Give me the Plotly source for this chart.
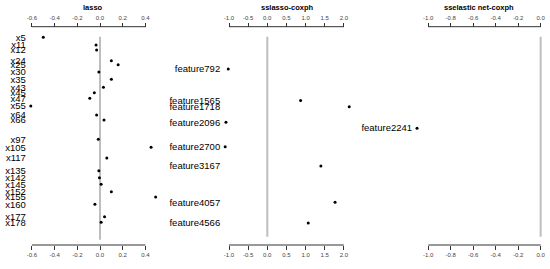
import plotly.graph_objects as go

# ---------------- data ----------------
# lasso panel: nonzero coefficients (row position)
lasso_labels = ["x5", "x11", "x12", "x24", "x25", "x30", "x35", "x43", "x45", "x47",
                "x55", "x64", "x66", "x97", "x105", "x117", "x135", "x142", "x145",
                "x152", "x155", "x160", "x177", "x178"]
lasso_pos = [0.6, 8.1, 13.0, 23.5, 27.5, 34.6, 41.8, 49.6, 54.9, 60.4,
             67.9, 76.8, 81.7, 100.6, 108.4, 118.9, 131.4, 138.2, 144.7,
             151.9, 157.1, 164.3, 176.5, 182.0]
lasso_coef = [-0.50, -0.035, -0.03, 0.10, 0.16, -0.01, 0.10, 0.03, -0.05, -0.09,
              -0.61, -0.03, 0.035, -0.015, 0.45, 0.06, -0.01, -0.005, 0.01,
              0.10, 0.49, -0.045, 0.04, 0.01]
lasso_nrows = 197

# sslasso-coxph panel
ss_labels = ["feature792", "feature1565", "feature1718", "feature2096",
             "feature2700", "feature3167", "feature4057", "feature4566"]
ss_pos = [792, 1565, 1718, 2096, 2700, 3167, 4057, 4566]
ss_coef = [-1.02, 0.87, 2.14, -1.08, -1.10, 1.40, 1.77, 1.07]

# sselastic net-coxph panel
en_labels = ["feature2241"]
en_pos = [2241]
en_coef = [-1.10]
n_features = 4900

lasso_ticks = [-0.6, -0.4, -0.2, 0.0, 0.2, 0.4]
ss_ticks = [-1.0, -0.5, 0.0, 0.5, 1.0, 1.5, 2.0]
en_ticks = [-1.0, -0.8, -0.6, -0.4, -0.2, 0.0]
titles = ["lasso", "sslasso-coxph", "sselastic net-coxph"]

# ---------------- layout geometry ----------------
W, H = 550, 269
dom_px = [(25.8, 160.6), (220.2, 354.2), (412.1, 545.6)]
xranges = [(-0.654, 0.534), (-1.23, 2.27), (-1.144, 0.044)]
top_px, bot_px = 26.7, 245.0
ydom = [1 - bot_px / H, 1 - top_px / H]
lasso_yrange = [204.2, -9.8]
feat_yrange = [5105, -245]

font = "Liberation Sans, Arial, sans-serif"
grey = "#BEBEBE"
axcol = "#333333"

fig = go.Figure()

# zero (unselected) coefficients as grey marks
lasso_zero_rows = [r for r in range(0, lasso_nrows + 1)
                   if all(abs(r - p) > 0.8 for p in lasso_pos)]
fig.add_trace(go.Scatter(x=[0.0] * len(lasso_zero_rows), y=lasso_zero_rows,
                         mode="markers", xaxis="x", yaxis="y",
                         marker=dict(symbol="line-ns", size=3, color=grey,
                                     line=dict(color=grey, width=2)),
                         hoverinfo="skip", showlegend=False))
for xa, ya, pos in [("x2", "y2", ss_pos), ("x3", "y3", en_pos)]:
    zs = [f for f in range(1, n_features + 1) if f not in set(pos)]
    fig.add_trace(go.Scatter(x=[0.0] * len(zs), y=zs, mode="lines",
                             xaxis=xa, yaxis=ya,
                             line=dict(color=grey, width=2),
                             hoverinfo="skip", showlegend=False))

# nonzero coefficients
panels = [("x", "y", lasso_coef, lasso_pos),
          ("x2", "y2", ss_coef, ss_pos),
          ("x3", "y3", en_coef, en_pos)]
for xa, ya, xs, ys in panels:
    fig.add_trace(go.Scatter(x=xs, y=ys, mode="markers", xaxis=xa, yaxis=ya,
                             marker=dict(size=3, color="black"),
                             showlegend=False))
# invisible copies so the top (duplicate) axes get drawn
for k, (xa, ya, xs, ys) in enumerate(panels):
    fig.add_trace(go.Scatter(x=xs, y=ys, mode="markers",
                             xaxis="x%d" % (k + 4), yaxis=ya,
                             marker=dict(size=3, color="rgba(0,0,0,0)"),
                             hoverinfo="skip", showlegend=False))

lay = dict(width=W, height=H, margin=dict(l=0, r=0, t=0, b=0, autoexpand=False),
           plot_bgcolor="rgba(0,0,0,0)", paper_bgcolor="white",
           font=dict(family=font, color="black"))

tick_sets = [lasso_ticks, ss_ticks, en_ticks]
ylabels = [(lasso_pos, lasso_labels, lasso_yrange),
           (ss_pos, ss_labels, feat_yrange),
           (en_pos, en_labels, feat_yrange)]
shapes = []
annotations = []
for i in range(3):
    dom = [dom_px[i][0] / W, dom_px[i][1] / W]
    ticks = tick_sets[i]
    txt = ["%.1f" % t for t in ticks]
    xb = "xaxis" if i == 0 else "xaxis%d" % (i + 1)
    yk = "yaxis" if i == 0 else "yaxis%d" % (i + 1)
    xname = "x" if i == 0 else "x%d" % (i + 1)
    common = dict(range=list(xranges[i]), tickvals=ticks, ticktext=txt,
                  ticks="outside", ticklen=4, tickwidth=1, tickcolor=axcol,
                  showline=False, showgrid=False, zeroline=False,
                  automargin=False, fixedrange=True,
                  tickfont=dict(size=6, color="#444444", family=font))
    lay[xb] = dict(domain=dom, anchor="free", position=ydom[0], side="bottom",
                   **common)
    lay["xaxis%d" % (i + 4)] = dict(overlaying=xname, anchor="free",
                                    position=ydom[1], side="top", **common)
    pos, labs, yr = ylabels[i]
    lay[yk] = dict(domain=ydom, range=yr, anchor="free", position=dom[0],
                   tickvals=pos, ticktext=labs, ticks="", showline=False,
                   showgrid=False, zeroline=False, ticklabelstandoff=0,
                   automargin=False, fixedrange=True,
                   tickfont=dict(size=9.5, color="black", family=font))
    for yp in ydom:
        shapes.append(dict(type="line", xref=xname, yref="paper",
                           x0=ticks[0], x1=ticks[-1], y0=yp, y1=yp,
                           line=dict(color=axcol, width=1)))
    annotations.append(dict(text="<b>%s</b>" % titles[i], xref="paper",
                            yref="paper", x=(dom[0] + dom[1]) / 2,
                            y=1 - 8 / H, xanchor="center", yanchor="middle",
                            showarrow=False,
                            font=dict(size=7.5, color="black", family=font)))
lay["shapes"] = shapes
lay["annotations"] = annotations
fig.update_layout(**lay)
fig.write_html("out.html", config={"displayModeBar": False},
               post_script="document.body.style.margin='0';"
                           "document.body.style.padding='0';")
